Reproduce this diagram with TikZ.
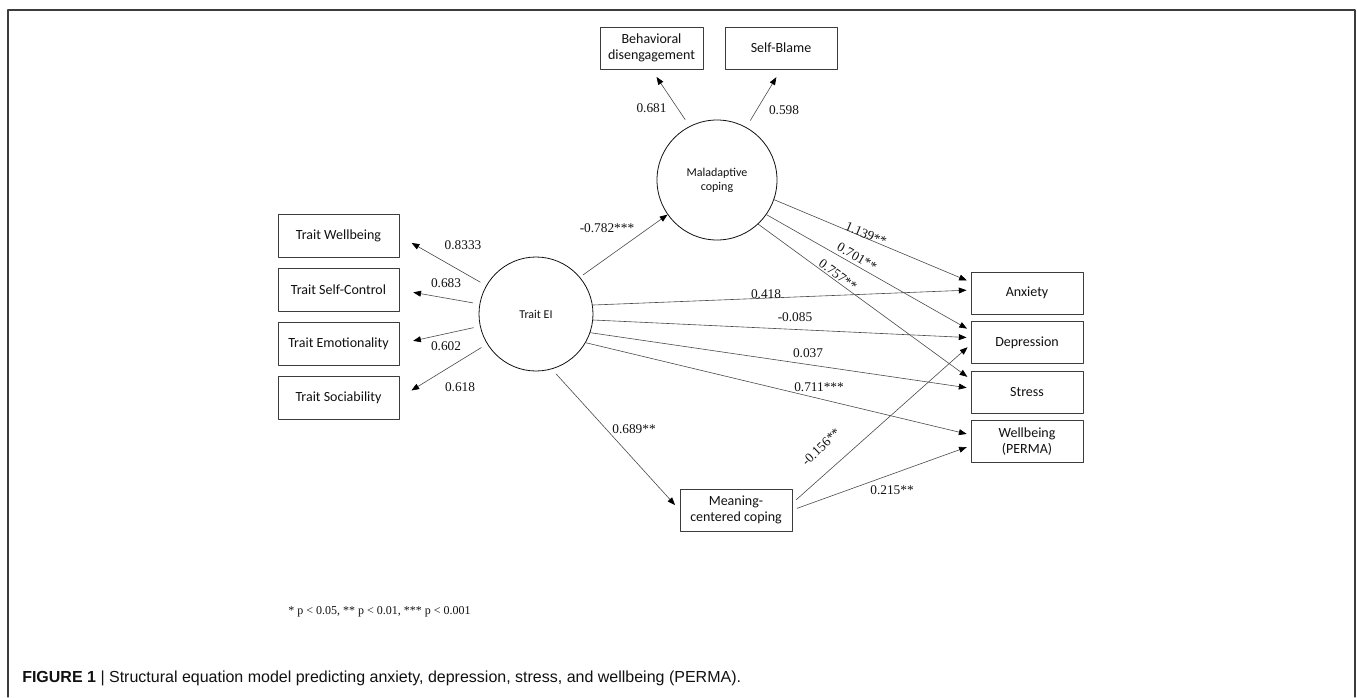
\documentclass[tikz,border=0pt]{standalone}
\usepackage{fontspec}
\setmainfont{Liberation Serif}
\newfontfamily\boxfont{Carlito}
\newfontfamily\capfont{Liberation Sans}
\usepackage{tikz}
\usetikzlibrary{arrows.meta,positioning}
\definecolor{semInk}{HTML}{111111}
\definecolor{semLine}{HTML}{4A4A4A}
\definecolor{semFrame}{HTML}{3C3C3C}
\tikzset{
  sem diagram/.style={x=0.75pt, y=-0.75pt, text=semInk,
    line cap=round, line join=round},
  sem box/.style={draw=semFrame, fill=white, line width=0.7pt,
    align=center, inner sep=2pt, font=\boxfont\fontsize{10.5}{12}\selectfont,
    minimum width=84pt, minimum height=31.5pt},
  sem trait/.style={sem box, minimum width=90.75pt, minimum height=32.25pt},
  sem latent/.style={circle, draw=semInk, line width=0.6pt, align=center,
    inner sep=0pt, font=\boxfont\fontsize{9}{10.5}\selectfont},
  sem arrow/.style={-{Triangle[length=5.8pt,width=4.4pt,color=black]},
    draw=semLine, line width=0.45pt},
  sem label/.style={font=\fontsize{10}{12}\selectfont, inner sep=0.5pt}
}
\begin{document}
\begin{tikzpicture}[sem diagram]
\useasboundingbox (0,0) rectangle (1357,697);
\draw[semFrame, line width=0.9pt] (8,697) -- (8,10) -- (1355,10) -- (1355,697);

% latent variables
\node[sem latent, minimum size=90pt] (mal) at (717,180) {Maladaptive\\coping};
\node[sem latent, minimum size=85.5pt] (ei) at (536,314) {Trait EI};

% indicators
\node[sem box, minimum width=77.25pt] (bd) at (651.5,48) {Behavioral\\disengagement};
\node[sem box] (sb) at (781,48) {Self-Blame};
\node[sem trait] (tw) at (338.5,236) {Trait Wellbeing};
\node[sem trait, below=7.5pt of tw] (tsc) {Trait Self-Control};
\node[sem trait, below=7.5pt of tsc] (temo) {Trait Emotionality};
\node[sem trait, below=7.5pt of temo] (tsoc) {Trait Sociability};

% outcomes
\node[sem box] (anx) at (1027,293) {Anxiety};
\node[sem box, below=5pt of anx] (dep) {Depression};
\node[sem box, below=5pt of dep] (str) {Stress};
\node[sem box, below=5pt of str] (wb) {Wellbeing\\(PERMA)};
\node[sem box] (mcc) at (736,510) {Meaning-\\centered coping};

% loadings
\draw[sem arrow, shorten <=6pt, shorten >=6.75pt] (mal.117) -- (bd.south);
\draw[sem arrow, shorten <=6pt, shorten >=6.75pt] (mal.61) -- (sb.south);
\draw[sem arrow, shorten <=5pt, shorten >=10.5pt] (ei) -- (tw.east);
\draw[sem arrow, shorten <=5pt, shorten >=10.5pt] (ei) -- (tsc.east);
\draw[sem arrow, shorten <=5pt, shorten >=10.5pt] (ei) -- (temo.east);
\draw[sem arrow, shorten <=5pt, shorten >=10.5pt] (ei) -- (tsoc.east);

% paths
\draw[sem arrow, shorten <=3pt] (ei.40) -- (mal.215);
\draw[sem arrow, shorten <=5pt, shorten >=5pt] (ei.-74) -- (mcc.west);
\draw[sem arrow, shorten >=3pt] (mal.-19) -- (anx.169);
\draw[sem arrow, shorten >=3pt] (mal.-35) -- (dep.168);
\draw[sem arrow, shorten >=3pt] (mal.-47) -- (str.167);
\draw[sem arrow, shorten >=3pt] (ei.9) -- (anx.177);
\draw[sem arrow, shorten >=3pt] (ei.-6) -- (dep.175);
\draw[sem arrow, shorten >=3pt] (ei.-19) -- (str.176);
\draw[sem arrow, shorten >=3pt] (ei.-30) -- (wb.173);
\draw[sem arrow, shorten <=3.75pt, shorten >=3pt] (mcc.7) -- (dep.182);
\draw[sem arrow, shorten <=3.75pt, shorten >=3pt] (mcc.east) -- (wb.184);

% coefficients
\node[sem label] (l-bd) at (651.5,108) {0.681};
\node[sem label] (l-sb) at (784,110) {0.598};
\node[sem label] (l-tw) at (463,245) {0.8333};
\node[sem label] (l-tsc) at (446,283) {0.683};
\node[sem label] (l-temo) at (446,346) {0.602};
\node[sem label] (l-tsoc) at (460,387) {0.618};
\node[sem label] (l-mal) at (607,228) {-0.782***};
\node[sem label, rotate=-23] (l-mal-anx) at (866,234) {1.139**};
\node[sem label, rotate=-30] (l-mal-dep) at (857,257) {0.701**};
\node[sem label, rotate=-36] (l-mal-str) at (838,275) {0.757**};
\node[sem label] (l-ei-anx) at (766,294) {0.418};
\node[sem label] (l-ei-dep) at (795,317) {-0.085};
\node[sem label] (l-ei-str) at (808,353) {0.037};
\node[sem label] (l-ei-wb) at (819,387) {0.711***};
\node[sem label] (l-mcc) at (634,429) {0.689**};
\node[sem label, rotate=44] (l-mcc-dep) at (821,447) {-0.156**};
\node[sem label] (l-mcc-wb) at (892,490) {0.215**};

% notes
\node[anchor=west, inner sep=0pt, font=\fontsize{9}{11}\selectfont] (note) at (288,612)
  {* p < 0.05, ** p < 0.01, *** p < 0.001};
\node[anchor=west, inner sep=0pt, font=\capfont\fontsize{12}{14}\selectfont] (cap) at (22,678)
  {\textbf{FIGURE 1} | Structural equation model predicting anxiety, depression, stress, and wellbeing (PERMA).};
\end{tikzpicture}
\end{document}
